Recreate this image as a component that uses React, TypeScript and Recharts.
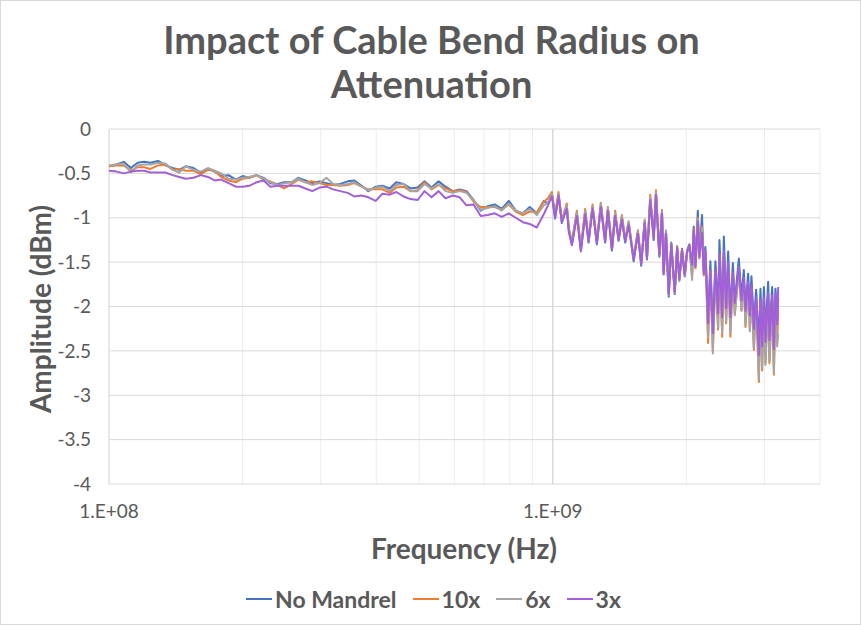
import React from 'react';
import { LineChart, Line, XAxis, YAxis, CartesianGrid, ReferenceLine } from 'recharts';

// Sweep frequencies in MHz
const FREQ_MHZ = [
  100, 104, 108, 112, 116, 120, 124, 129, 134, 139, 144, 149, 155, 161, 167, 173,
  179, 186, 193, 200, 207, 215, 223, 231, 240, 248, 258, 267, 277, 287, 298, 309,
  320, 332, 345, 357, 371, 384, 399, 413, 429, 444, 461, 478, 496, 514, 533, 553,
  573, 595, 617, 639, 663, 688, 713, 740, 767, 796, 825, 856, 887, 920, 954, 975,
  995, 1012, 1030, 1048, 1075, 1087, 1104, 1133, 1157, 1183, 1204, 1229, 1257, 1283, 1312, 1331,
  1359, 1382, 1407, 1431, 1456, 1482, 1521, 1555, 1582, 1611, 1630, 1658, 1688, 1708, 1738, 1762,
  1777, 1799, 1825, 1849, 1883, 1906, 1928, 1955, 1983, 2007, 2031, 2060, 2078, 2096, 2122, 2139,
  2169, 2189, 2207, 2238, 2265, 2294, 2325, 2358, 2374, 2408, 2429, 2458, 2484, 2513, 2545, 2571,
  2625, 2661, 2694, 2717, 2755, 2780, 2803, 2838, 2872, 2913, 2937, 2963, 2990, 3014, 3057, 3077,
  3121, 3149, 3175, 3203, 3220,
];

const NO_MANDREL = [
  -0.42, -0.40, -0.37, -0.44, -0.38, -0.37, -0.38, -0.36, -0.41, -0.44,
  -0.46, -0.42, -0.44, -0.49, -0.45, -0.48, -0.53, -0.52, -0.57, -0.53,
  -0.55, -0.52, -0.55, -0.61, -0.62, -0.60, -0.60, -0.55, -0.58, -0.61,
  -0.59, -0.61, -0.63, -0.62, -0.59, -0.58, -0.64, -0.70, -0.65, -0.64,
  -0.67, -0.60, -0.62, -0.67, -0.66, -0.59, -0.66, -0.59, -0.65, -0.70,
  -0.68, -0.70, -0.80, -0.92, -0.87, -0.85, -0.90, -0.81, -0.92, -0.95,
  -0.88, -0.95, -0.81, -0.84,
  -0.72, -1.01, -0.74, -1.06, -0.87, -1.15, -1.30, -0.96, -1.37, -0.94,
  -1.28, -0.88, -1.30, -0.86, -1.28, -0.91, -1.37, -0.96, -1.26, -1.00,
  -1.28, -1.07, -1.49, -1.17, -1.54, -1.05, -1.47, -0.79, -1.25, -0.73,
  -1.44, -0.94, -1.64, -1.15, -1.89, -1.28, -1.86, -1.32, -1.71, -1.35,
  -1.66, -1.37, -1.30, -1.62, -1.10, -1.54, -0.92, -1.42, -0.97, -1.60,
  -1.33, -2.15, -1.49, -2.25, -1.49, -2.05, -1.25, -2.10, -1.21, -2.00,
  -1.38, -2.10, -1.51, -1.95, -1.46, -1.90, -1.59, -2.02, -1.63, -2.05,
  -1.66, -2.20, -1.81, -2.45, -1.80, -2.35, -1.78, -2.30, -1.72, -2.30,
  -1.78, -2.40, -1.80, -2.15, -1.90,
];

const MANDREL_10X = [
  -0.42, -0.41, -0.41, -0.47, -0.43, -0.43, -0.45, -0.41, -0.40, -0.46,
  -0.45, -0.47, -0.47, -0.51, -0.46, -0.47, -0.54, -0.58, -0.60, -0.56,
  -0.55, -0.52, -0.57, -0.59, -0.63, -0.67, -0.62, -0.57, -0.60, -0.59,
  -0.61, -0.63, -0.63, -0.64, -0.63, -0.61, -0.65, -0.68, -0.68, -0.68,
  -0.72, -0.66, -0.65, -0.70, -0.69, -0.60, -0.68, -0.63, -0.67, -0.70,
  -0.69, -0.71, -0.82, -0.88, -0.88, -0.88, -0.91, -0.85, -0.93, -0.97,
  -0.93, -0.94, -0.82, -0.78,
  -0.71, -0.96, -0.71, -1.03, -0.84, -1.12, -1.27, -0.92, -1.34, -0.90,
  -1.25, -0.85, -1.27, -0.83, -1.25, -0.88, -1.34, -0.92, -1.23, -0.97,
  -1.25, -1.04, -1.45, -1.14, -1.50, -1.02, -1.44, -0.74, -1.22, -0.69,
  -1.41, -0.91, -1.62, -1.17, -1.86, -1.30, -1.84, -1.33, -1.69, -1.36,
  -1.64, -1.38, -1.31, -1.66, -1.12, -1.57, -1.00, -1.46, -1.10, -1.65,
  -1.38, -2.41, -1.62, -2.50, -1.65, -2.26, -1.45, -2.34, -1.42, -2.19,
  -1.55, -2.34, -1.66, -2.08, -1.60, -2.04, -1.72, -2.23, -1.78, -2.26,
  -1.82, -2.49, -1.95, -2.85, -1.98, -2.72, -1.95, -2.64, -1.92, -2.64,
  -1.95, -2.77, -1.98, -2.41, -2.05,
];

const MANDREL_6X = [
  -0.41, -0.40, -0.39, -0.49, -0.41, -0.40, -0.40, -0.38, -0.39, -0.46,
  -0.49, -0.42, -0.46, -0.48, -0.44, -0.47, -0.50, -0.56, -0.57, -0.55,
  -0.54, -0.52, -0.56, -0.60, -0.63, -0.61, -0.60, -0.56, -0.60, -0.63,
  -0.61, -0.55, -0.62, -0.63, -0.62, -0.60, -0.65, -0.69, -0.66, -0.65,
  -0.70, -0.63, -0.62, -0.70, -0.70, -0.62, -0.67, -0.62, -0.70, -0.72,
  -0.70, -0.72, -0.80, -0.91, -0.89, -0.87, -0.92, -0.84, -0.92, -0.95,
  -0.90, -0.97, -0.86, -0.83,
  -0.73, -0.97, -0.73, -1.04, -0.86, -1.13, -1.28, -0.94, -1.35, -0.92,
  -1.26, -0.87, -1.28, -0.84, -1.26, -0.89, -1.35, -0.94, -1.24, -0.98,
  -1.26, -1.05, -1.46, -1.15, -1.51, -1.03, -1.45, -0.77, -1.23, -0.71,
  -1.42, -0.92, -1.63, -1.14, -1.87, -1.29, -1.85, -1.34, -1.70, -1.37,
  -1.65, -1.39, -1.32, -1.70, -1.14, -1.56, -1.02, -1.45, -1.12, -1.64,
  -1.37, -2.35, -1.60, -2.53, -1.62, -2.24, -1.42, -2.30, -1.40, -2.17,
  -1.52, -2.30, -1.64, -2.10, -1.58, -2.05, -1.72, -2.20, -1.76, -2.28,
  -1.80, -2.47, -1.93, -2.82, -1.95, -2.70, -1.95, -2.66, -1.90, -2.62,
  -1.92, -2.75, -1.95, -2.45, -2.30,
];

const MANDREL_3X = [
  -0.47, -0.48, -0.50, -0.48, -0.47, -0.47, -0.49, -0.49, -0.49, -0.52,
  -0.54, -0.56, -0.55, -0.52, -0.54, -0.58, -0.57, -0.61, -0.65, -0.65,
  -0.64, -0.60, -0.58, -0.65, -0.64, -0.64, -0.64, -0.64, -0.67, -0.70,
  -0.66, -0.65, -0.68, -0.70, -0.72, -0.76, -0.75, -0.77, -0.81, -0.73,
  -0.74, -0.71, -0.76, -0.79, -0.80, -0.70, -0.77, -0.70, -0.78, -0.75,
  -0.77, -0.86, -0.85, -0.98, -0.97, -0.95, -0.99, -0.95, -1.00, -1.05,
  -1.07, -1.11, -0.96, -0.86,
  -0.76, -1.00, -0.75, -1.05, -0.90, -1.16, -1.31, -0.98, -1.38, -0.96,
  -1.27, -0.90, -1.29, -0.88, -1.27, -0.92, -1.36, -0.98, -1.25, -1.02,
  -1.27, -1.08, -1.47, -1.18, -1.52, -1.06, -1.46, -0.80, -1.23, -0.74,
  -1.42, -0.95, -1.63, -1.18, -1.86, -1.30, -1.84, -1.34, -1.69, -1.37,
  -1.64, -1.39, -1.31, -1.53, -1.13, -1.55, -1.04, -1.44, -1.17, -1.63,
  -1.36, -2.19, -1.60, -2.30, -1.58, -2.08, -1.40, -2.12, -1.37, -2.02,
  -1.50, -2.12, -1.62, -1.96, -1.55, -1.93, -1.68, -2.05, -1.72, -2.10,
  -1.76, -2.25, -1.90, -2.55, -1.92, -2.45, -1.90, -2.40, -1.85, -2.38,
  -1.88, -2.48, -1.85, -2.20, -1.78,
];

const X_TICKS = [1e8, 2e8, 3e8, 4e8, 5e8, 6e8, 7e8, 8e8, 9e8, 1e9, 2e9, 3e9, 4e9];
const X_LABELS: Record<number, string> = { 100000000: '1.E+08', 1000000000: '1.E+09' };
const Y_TICKS = [0, -0.5, -1, -1.5, -2, -2.5, -3, -3.5, -4];

const SERIES = [
  { key: 'noMandrel', name: 'No Mandrel', color: '#4472C4', values: NO_MANDREL },
  { key: 'x10', name: '10x', color: '#ED7D31', values: MANDREL_10X },
  { key: 'x6', name: '6x', color: '#A5A5A5', values: MANDREL_6X },
  { key: 'x3', name: '3x', color: '#A35FD9', values: MANDREL_3X },
];

const data = FREQ_MHZ.map((f, i) => {
  const row: Record<string, number> = { freq: f * 1e6 };
  SERIES.forEach((s) => {
    row[s.key] = s.values[i];
  });
  return row;
});

const FONT = 'Lato, "Open Sans", sans-serif';
const TEXT = '#595959';

export default function App() {
  return (
    <div
      style={{
        position: 'absolute',
        left: 0,
        top: 0,
        width: 861,
        height: 625,
        boxSizing: 'border-box',
        border: '1px solid #D9D9D9',
        background: '#fff',
        fontFamily: FONT,
        color: TEXT,
      }}
    >
      <div
        style={{
          position: 'absolute',
          left: 0,
          top: 16,
          width: 861,
          textAlign: 'center',
          fontSize: 38,
          fontWeight: 700,
          lineHeight: '44px',
        }}
      >
        Impact of Cable Bend Radius on
        <br />
        Attenuation
      </div>

      <LineChart
        width={859}
        height={623}
        data={data}
        margin={{ top: 128, right: 40, left: 0, bottom: 0 }}
        style={{ position: 'absolute', left: 0, top: 0 }}
      >
        <CartesianGrid horizontal={false} stroke="#EDEDED" strokeWidth={1} />
        <CartesianGrid vertical={false} stroke="#D9D9D9" strokeWidth={1} />
        <ReferenceLine x={1e8} stroke="#D9D9D9" />
        <ReferenceLine x={1e9} stroke="#D0D0D0" />
        <XAxis
          dataKey="freq"
          type="number"
          scale="log"
          domain={[1e8, 4e9]}
          ticks={X_TICKS}
          tickFormatter={(v: number) => X_LABELS[v] ?? ''}
          axisLine={false}
          tickLine={false}
          tickMargin={15}
          height={140}
          allowDataOverflow
          interval={0}
          tick={{ fill: TEXT, fontSize: 19, fontFamily: FONT }}
        />
        <YAxis
          type="number"
          domain={[-4, 0]}
          ticks={Y_TICKS}
          axisLine={false}
          tickLine={false}
          tickMargin={12}
          width={108}
          interval={0}
          tick={{ fill: TEXT, fontSize: 19, fontFamily: FONT }}
        />
        {SERIES.map((s) => (
          <Line
            key={s.key}
            type="linear"
            dataKey={s.key}
            name={s.name}
            stroke={s.color}
            strokeWidth={2}
            strokeLinejoin="round"
            dot={false}
            activeDot={false}
            isAnimationActive={false}
          />
        ))}
      </LineChart>

      {/* axis titles */}
      <div
        style={{
          position: 'absolute',
          left: 39,
          top: 308,
          transform: 'translate(-50%, -50%) rotate(-90deg)',
          whiteSpace: 'nowrap',
          fontSize: 28,
          fontWeight: 700,
        }}
      >
        Amplitude (dBm)
      </div>
      <div
        style={{
          position: 'absolute',
          left: 463,
          top: 547,
          transform: 'translate(-50%, -50%)',
          whiteSpace: 'nowrap',
          fontSize: 28,
          fontWeight: 700,
        }}
      >
        Frequency (Hz)
      </div>

      {/* legend */}
      <div
        style={{
          position: 'absolute',
          left: 0,
          top: 584,
          width: 861,
          display: 'flex',
          justifyContent: 'center',
          gap: 16,
          fontSize: 23,
          fontWeight: 700,
          lineHeight: '28px',
          paddingLeft: 4,
          boxSizing: 'border-box',
        }}
      >
        {SERIES.map((s) => (
          <div key={s.key} style={{ display: 'flex', alignItems: 'center' }}>
            <span style={{ display: 'inline-block', width: 26, height: 2, background: s.color, marginRight: 3 }} />
            {s.name}
          </div>
        ))}
      </div>
    </div>
  );
}
